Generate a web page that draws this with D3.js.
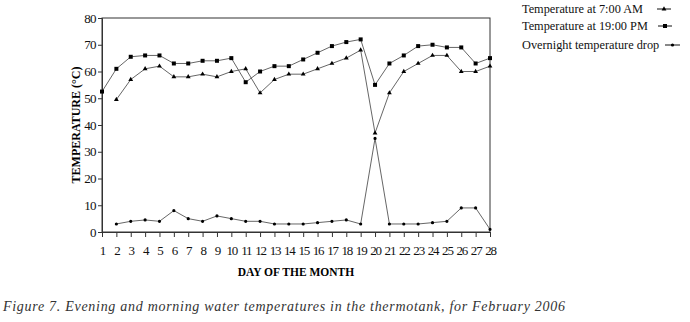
<!DOCTYPE html>
<html>
<head>
<meta charset="utf-8">
<script src="https://cdn.jsdelivr.net/npm/d3@7"></script>
<style>
  body { margin: 0; background: #fff; }
  svg { display: block; }
</style>
</head>
<body>
<div id="chart-container"></div>
<script>
const days = d3.range(1, 29);
const yTicks = [0, 10, 20, 30, 40, 50, 60, 70, 80];

// 19:00 PM readings, day 1..28
const evening = [52.5, 61, 65.5, 66, 66, 63, 63, 64, 64, 65, 56, 60, 62, 62, 64.5, 67, 69.5, 71, 72, 55, 63, 66, 69.5, 70, 69, 69, 63, 65];
// 7:00 AM readings, from day 2
const morning = [null, 49.5, 57, 61, 62, 58, 58, 59, 58, 60, 61, 52, 57, 59, 59, 61, 63, 65, 68, 37, 52, 60, 63, 66, 66, 60, 60, 62];
// overnight drop, from day 2
const drop = [null, 3, 4, 4.5, 4, 8, 5, 4, 6, 5, 4, 4, 3, 3, 3, 3.5, 4, 4.5, 3, 35, 3, 3, 3, 3.5, 4, 9, 9, 1];

const legendNames = ["Temperature at 7:00 AM", "Temperature at 19:00 PM", "Overnight temperature drop"];

const margin = {top: 18, right: 200, bottom: 90, left: 102};
const W = 690, H = 322;
const width = 490 - margin.left;
const height = 232 - margin.top;

const svg = d3.select("#chart-container")
    .append("svg")
    .attr("width", W)
    .attr("height", H);

const g = svg.append("g")
    .attr("transform", `translate(${margin.left},${margin.top})`);

const x = d3.scaleLinear().domain([1, 28]).range([0, width]);
const y = d3.scaleLinear().domain([0, 80]).range([height, 0]);

const serif = "'Liberation Serif', 'Times New Roman', serif";

// frame
g.append("rect")
    .attr("width", width).attr("height", height)
    .attr("fill", "none").attr("stroke", "#333").attr("stroke-width", 1);

// x axis, ticks pointing down
const xAxis = g.append("g")
    .attr("transform", `translate(0,${height})`)
    .call(d3.axisBottom(x).tickValues(days).tickFormat(d3.format("d")).tickSize(5).tickPadding(9));
xAxis.select(".domain").attr("stroke", "#333");
xAxis.selectAll("line").attr("stroke", "#333");
xAxis.selectAll("text").attr("font-family", serif).attr("font-size", 13)
    .attr("letter-spacing", -1.2).attr("fill", "#111");

const yAxis = g.append("g")
    .call(d3.axisLeft(y).tickValues(yTicks).tickSize(4).tickPadding(2));
yAxis.select(".domain").attr("stroke", "#333");
yAxis.selectAll("line").attr("stroke", "#333");
yAxis.selectAll("text").attr("font-family", serif).attr("font-size", 13)
    .attr("letter-spacing", -0.6).attr("fill", "#111");

// axis titles
svg.append("text")
    .attr("transform", `translate(80,${margin.top + height / 2}) rotate(-90)`)
    .attr("text-anchor", "middle")
    .attr("font-family", serif).attr("font-weight", "bold").attr("font-size", 12)
    .text("TEMPERATURE  (°C)");

svg.append("text")
    .attr("x", 296).attr("y", 276)
    .attr("text-anchor", "middle")
    .attr("font-family", serif).attr("font-weight", "bold").attr("font-size", 11.5)
    .text("DAY OF THE MONTH");

const line = d3.line()
    .defined(d => d[1] != null)
    .x(d => x(d[0]))
    .y(d => y(d[1]));

function series(vals) {
  return days.map((d, i) => [d, vals[i]]);
}

const lineColor = "#555";

[morning, evening, drop].forEach(vals => {
  g.append("path")
      .datum(series(vals))
      .attr("fill", "none")
      .attr("stroke", lineColor)
      .attr("stroke-width", 0.9)
      .attr("d", line);
});

const tri = d3.symbol().type(d3.symbolTriangle).size(10);
const sq = d3.symbol().type(d3.symbolSquare).size(16);
const dot = d3.symbol().type(d3.symbolCircle).size(8);

function markers(vals, sym) {
  g.append("g").selectAll("path")
      .data(series(vals).filter(d => d[1] != null))
      .join("path")
      .attr("transform", d => `translate(${x(d[0])},${y(d[1])})`)
      .attr("d", sym)
      .attr("fill", "#000");
}
markers(morning, tri);
markers(evening, sq);
markers(drop, dot);

// legend
const legend = svg.append("g");
const syms = [tri, sq, dot];
const rowsY = [13, 30, 49];
const symX = [[657, 671], [658, 672], [665, 680]];
legendNames.forEach((name, i) => {
  legend.append("text")
      .attr("x", 522).attr("y", rowsY[i])
      .attr("font-family", serif).attr("font-size", 12.3)
      .attr("fill", "#111")
      .text(name);
  const yy = rowsY[i] - 4;
  legend.append("line")
      .attr("x1", symX[i][0]).attr("x2", symX[i][1])
      .attr("y1", yy).attr("y2", yy)
      .attr("stroke", "#111").attr("stroke-width", 1);
  legend.append("path")
      .attr("transform", `translate(${(symX[i][0] + symX[i][1]) / 2},${yy})`)
      .attr("d", syms[i])
      .attr("fill", "#000");
});

// caption
svg.append("text")
    .attr("x", 3).attr("y", 311)
    .attr("font-family", serif).attr("font-style", "italic").attr("font-size", 14)
    .attr("fill", "#333")
    .attr("textLength", 562)
    .attr("lengthAdjust", "spacing")
    .text("Figure 7. Evening and morning water temperatures in the thermotank, for February 2006");
</script>
</body>
</html>
